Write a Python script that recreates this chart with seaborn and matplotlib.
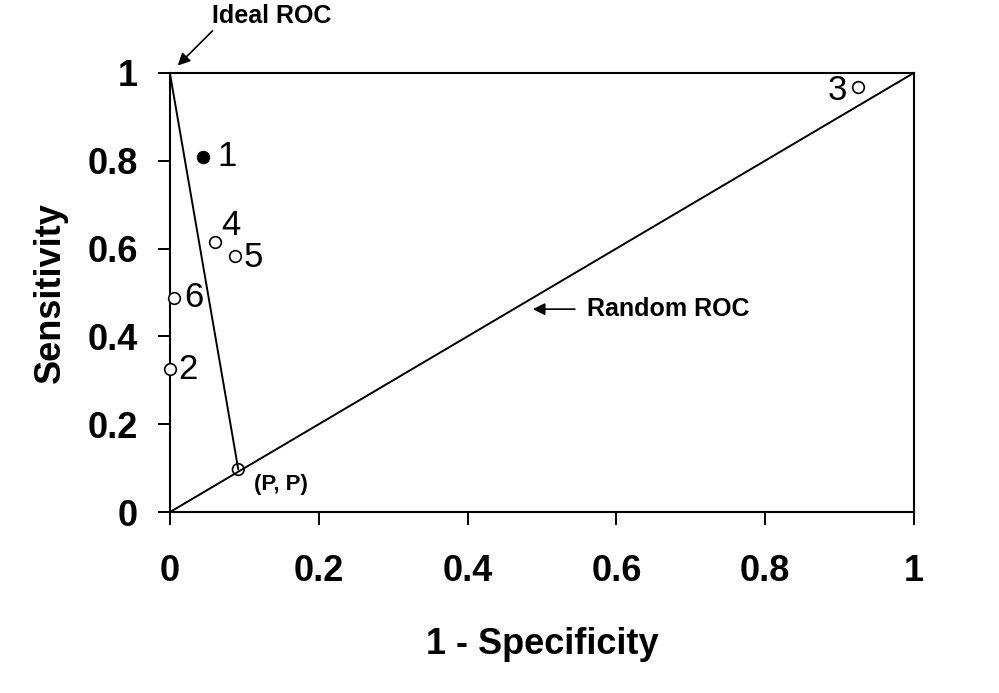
import matplotlib
matplotlib.use("Agg")
import matplotlib.pyplot as plt
import seaborn as sns
import pandas as pd

# ROC points
point_ids = ["1", "2", "3", "4", "5", "6"]
fpr = [0.044, 0.0, 0.925, 0.061, 0.088, 0.005]
tpr = [0.809, 0.325, 0.967, 0.615, 0.582, 0.488]
filled = [True, False, False, False, False, False]

# the (P, P) point on the random line and the ideal corner
pp_x = 0.092
pp_y = 0.097
ideal_x, ideal_y = 0.0, 1.0

tick_vals = [0, 0.2, 0.4, 0.6, 0.8, 1]
tick_labels = ["0", "0.2", "0.4", "0.6", "0.8", "1"]

sns.set_style("ticks")
plt.rcParams["font.family"] = ["Liberation Sans", "DejaVu Sans"]
plt.rcParams.update({"text.color": "black", "axes.labelcolor": "black",
                     "xtick.color": "black", "ytick.color": "black",
                     "axes.edgecolor": "black"})

fig = plt.figure(figsize=(9.99, 6.93), dpi=100)
ax = fig.add_axes([0.170, 0.261, 0.745, 0.634])

# random ROC diagonal and line to (P, P)
diag = pd.DataFrame({"x": [0, 1], "y": [0, 1]})
sns.lineplot(data=diag, x="x", y="y", color="black", lw=1.4, ax=ax)
pp_line = pd.DataFrame({"x": [ideal_x, pp_x], "y": [ideal_y, pp_y]})
sns.lineplot(data=pp_line, x="x", y="y", color="black", lw=1.4, ax=ax)

df = pd.DataFrame({"fpr": fpr, "tpr": tpr, "id": point_ids, "filled": filled})
sns.scatterplot(data=df[~df["filled"]], x="fpr", y="tpr", s=70,
                facecolor="white", edgecolor="black", linewidth=1.2,
                ax=ax, zorder=5, clip_on=False)
sns.scatterplot(data=df[df["filled"]], x="fpr", y="tpr", s=80,
                color="black", edgecolor="black", ax=ax, zorder=5)
ax.scatter([pp_x], [pp_y], s=70, facecolor="none", edgecolor="black",
           linewidth=1.2, zorder=5)

# label offsets in points (dx, dy, ha)
offsets = {"1": (11, 0, "left"), "2": (6, 0, "left"), "3": (-8, -2, "right"),
           "4": (4, 12, "left"), "5": (6, -1, "left"), "6": (8, 0, "left")}
for _, r in df.iterrows():
    dx, dy, ha = offsets[r["id"]]
    ax.annotate(r["id"], (r["fpr"], r["tpr"]), xytext=(dx, dy),
                textcoords="offset points", ha=ha, va="center", fontsize=25)

ax.annotate("(P, P)", (pp_x, pp_y), xytext=(11, -11), textcoords="offset points",
            ha="left", va="center", fontsize=16, fontweight="bold")

ax.annotate("", xy=(0.008, 1.012), xytext=(0.060, 1.10),
            arrowprops=dict(arrowstyle="-|>", color="black", lw=1.2,
                            mutation_scale=18), annotation_clip=False)
ax.text(0.057, 1.13, "Ideal ROC", fontsize=18, fontweight="bold",
        ha="left", va="center", clip_on=False)

ax.annotate("", xy=(0.484, 0.462), xytext=(0.548, 0.462),
            arrowprops=dict(arrowstyle="-|>", color="black", lw=1.2,
                            mutation_scale=18))
ax.text(0.56, 0.4625, "Random ROC", fontsize=18, fontweight="bold",
        ha="left", va="center")

ax.set_xlim(0, 1)
ax.set_ylim(0, 1)
ax.set_xticks(tick_vals)
ax.set_xticklabels(tick_labels, fontsize=26, fontweight="bold")
ax.set_yticks(tick_vals)
ax.set_yticklabels(tick_labels, fontsize=26, fontweight="bold")
ax.tick_params(axis="both", direction="out", length=9, width=1.4, color="black")
ax.tick_params(axis="x", pad=21)
ax.tick_params(axis="y", pad=14)

for sp in ax.spines.values():
    sp.set_linewidth(1.5)
    sp.set_color("black")

ax.set_xlabel("1 - Specificity", fontsize=26, fontweight="bold")
ax.set_ylabel("Sensitivity", fontsize=26, fontweight="bold")
ax.xaxis.set_label_coords(0.5, -0.262)
ax.yaxis.set_label_coords(-0.137, 0.5)

fig.savefig("out.png", dpi=100)
